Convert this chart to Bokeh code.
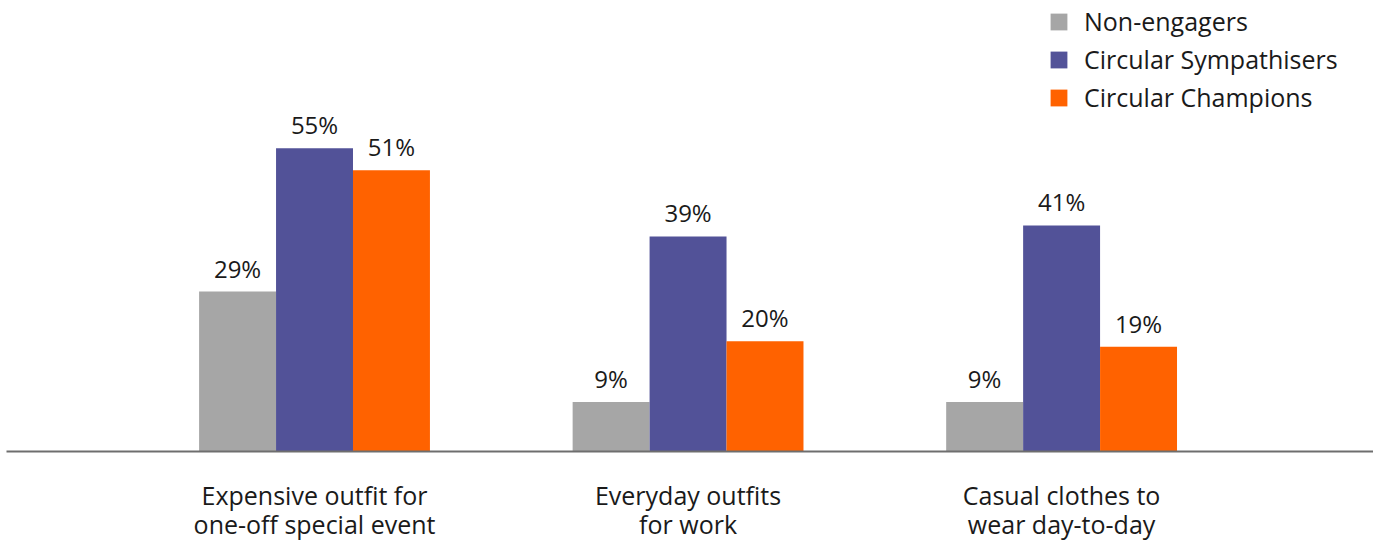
from bokeh.plotting import figure
from bokeh.models import (ColumnDataSource, Range1d, FixedTicker, LabelSet,
                          Legend, LegendItem)
from bokeh.core.properties import value
from bokeh.embed import file_html
from bokeh.resources import INLINE

# Survey shares (%) by clothing occasion and consumer segment
categories = ["Expensive outfit for\none-off special event",
              "Everyday outfits\nfor work",
              "Casual clothes to\nwear day-to-day"]
series_names = ["Non-engagers", "Circular Sympathisers", "Circular Champions"]
non_engagers = [29, 9, 9]
sympathisers = [55, 39, 41]
champions = [51, 20, 19]
colors = ["#a6a6a6", "#525298", "#ff6200"]

FONT = "Open Sans"
bar_w = 0.206
offsets = [-bar_w, 0.0, bar_w]

p = figure(frame_width=1367, frame_height=451, output_backend="svg",
           toolbar_location=None,
           x_range=Range1d(-0.8246, 2.835), y_range=Range1d(0, 81.8),
           min_border_left=6, min_border_right=0, min_border_top=0,
           min_border_bottom=0)
p.outline_line_color = None
p.background_fill_color = "white"
p.border_fill_color = "white"
p.grid.visible = False
p.yaxis.visible = False

xs = list(range(len(categories)))
items = []
for name, vals, off, col in zip(series_names,
                                [non_engagers, sympathisers, champions],
                                offsets, colors):
    src = ColumnDataSource(dict(
        x=[x + off for x in xs], top=vals,
        label=[f"{v}%" for v in vals]))
    r = p.vbar(x="x", top="top", width=bar_w, bottom=0, source=src,
               fill_color=col, line_color=None)
    items.append(LegendItem(label=name, renderers=[r]))
    p.add_layout(LabelSet(x="x", y="top", text="label", source=src,
                          text_align="center", text_baseline="alphabetic",
                          y_offset=14, text_font=value(FONT),
                          text_font_size="24px", text_color="#1a1a1a"))

ax = p.xaxis[0]
ax.ticker = FixedTicker(ticks=xs)
ax.major_label_overrides = {i: c for i, c in enumerate(categories)}
ax.major_tick_line_color = None
ax.minor_tick_line_color = None
ax.axis_line_color = "#6e6e6e"
ax.axis_line_width = 2
ax.major_label_text_font = FONT
ax.major_label_text_font_size = "25px"
ax.major_label_text_line_height = 0.88
ax.major_label_text_color = "#1a1a1a"
ax.major_label_standoff = 20

legend = Legend(items=items, location=(1042, 337), orientation="vertical",
                glyph_width=21, glyph_height=21, label_standoff=15,
                spacing=4, padding=0, margin=0, border_line_color=None,
                background_fill_alpha=0, label_text_font=FONT,
                label_text_font_size="25px", label_text_color="#1a1a1a",
                label_height=21)
p.add_layout(legend)

open("out.html", "w").write(file_html(p, INLINE))
